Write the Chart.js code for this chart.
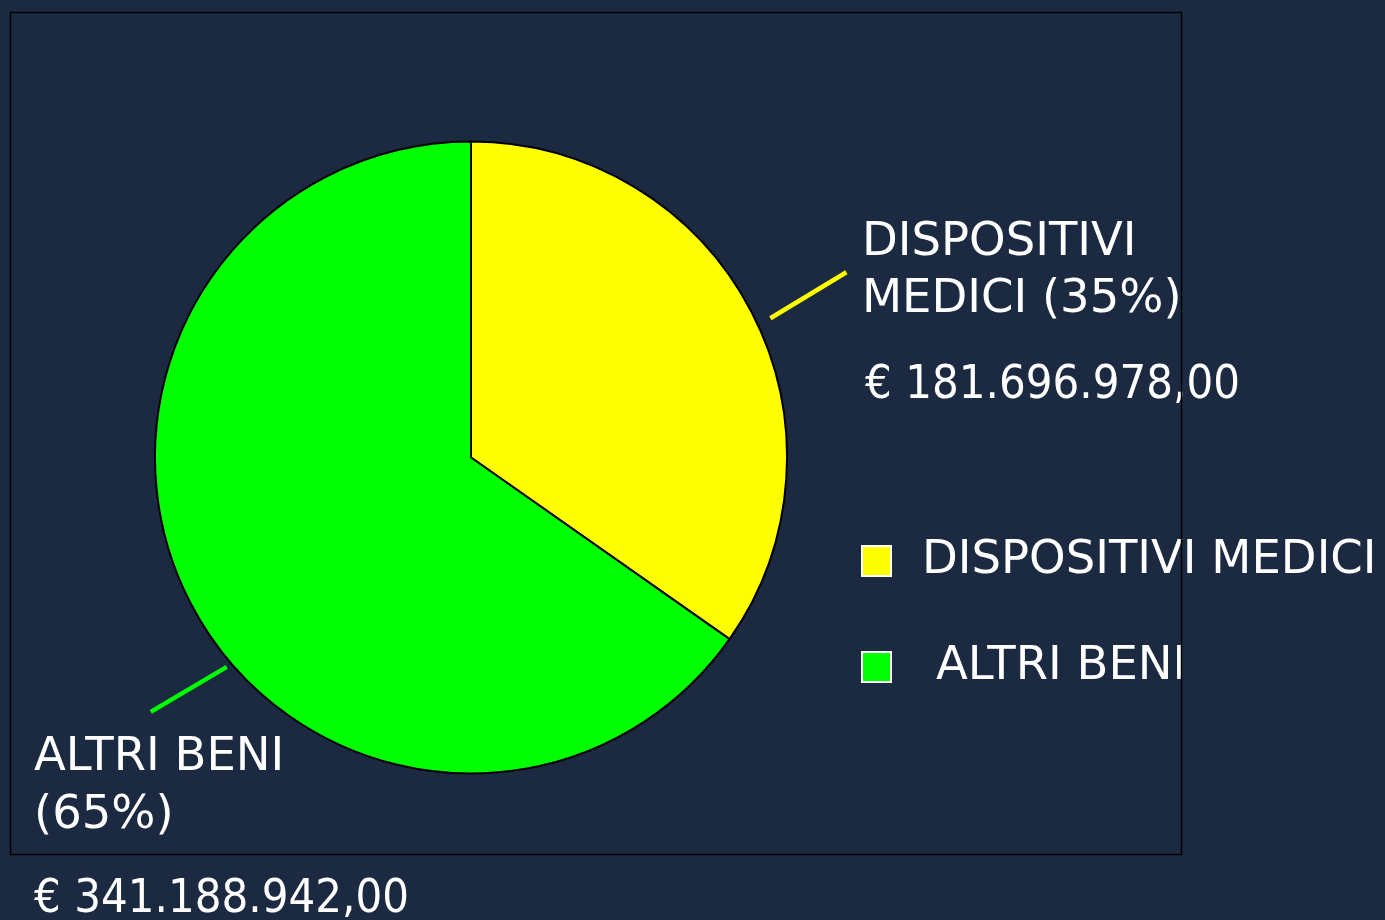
<!DOCTYPE html>
<html>
<head>
<meta charset="utf-8">
<script src="https://cdn.jsdelivr.net/npm/chart.js@4"></script>
<style>
html, body { margin: 0; padding: 0; background: #1b2a41; }
#wrap { width: 1385px; height: 920px; position: relative; }
</style>
</head>
<body>
<div id="wrap"><canvas id="chart"></canvas></div>
<script>
// data
const categories = ["DISPOSITIVI MEDICI", "ALTRI BENI"]
const amounts = [181696978, 341188942]   // euro
const colors = ["#ffff00", "#00ff00"]

const BG = "#1b2a41"
const FONT = "46.5px 'DejaVu Sans'"

const total = amounts.reduce((a, b) => a + b, 0)
const pct = v => Math.round(100 * v / total)

function formatEuro(v) {
	// 181696978 -> "€ 181.696.978,00"
	return "€ " + String(v).replace(/\B(?=(\d{3})+(?!\d))/g, ".") + ",00"
}

// slice label blocks: lines + amount, left x, baselines
const labelBlocks = [
	{ lines: ["DISPOSITIVI", "MEDICI (" + pct(amounts[0]) + "%)"], x: 862, ys: [255, 312], ax: 865, ay: 398 },
	{ lines: ["ALTRI BENI", "(" + pct(amounts[1]) + "%)"], x: 34, ys: [770, 828], ax: 34, ay: 912 },
]
// leader lines: start inside the slice (fraction f, radius factor r0), then a short straight stroke
const leaders = [
	{ f: 0.52, r0: 1.045, dx: 76, dy: -46 },
	{ f: 0.444, r0: 1.018, dx: -76, dy: 45 },
]

const decor = {
	id: "decor",
	beforeDraw(chart) {
		const c = chart.ctx
		c.save()
		c.fillStyle = BG
		c.fillRect(0, 0, chart.width, chart.height)
		c.restore()
	},
	afterDraw(chart) {
		const c = chart.ctx
		const arcs = chart.getDatasetMeta(0).data
		c.save()
		// leader lines
		arcs.forEach((a, i) => {
			const L = leaders[i]
			const ang = a.startAngle + (a.endAngle - a.startAngle) * L.f
			const x0 = a.x + Math.cos(ang) * a.outerRadius * L.r0
			const y0 = a.y + Math.sin(ang) * a.outerRadius * L.r0
			c.strokeStyle = colors[i]
			c.lineWidth = 4.5
			c.beginPath()
			c.moveTo(x0, y0)
			c.lineTo(x0 + L.dx, y0 + L.dy)
			c.stroke()
		})
		// slice labels
		c.font = FONT
		c.fillStyle = "#fff"
		c.textAlign = "left"
		c.textBaseline = "alphabetic"
		labelBlocks.forEach((b, i) => {
			b.lines.forEach((t, j) => c.fillText(t, b.x, b.ys[j]))
			c.fillText(formatEuro(amounts[i]), b.ax, b.ay, 375)
		})
		// legend
		const legY = [545, 651]
		const legTx = [922, 936]
		categories.forEach((name, i) => {
			c.fillStyle = colors[i]
			c.fillRect(861, legY[i], 31, 32)
			c.strokeStyle = "#fff"
			c.lineWidth = 2
			c.strokeRect(862, legY[i] + 1, 29, 30)
			c.fillStyle = "#fff"
			c.fillText(name, legTx[i], legY[i] + 28)
		})
		// plot frame, drawn on top of the text like the original
		c.strokeStyle = "#000"
		c.lineWidth = 1.5
		c.strokeRect(10.5, 12.5, 1171, 842)
		c.restore()
	}
}

new Chart(document.getElementById("chart"), {
	type: "pie",
	data: {
		labels: categories,
		datasets: [{
			data: amounts,
			backgroundColor: colors,
			borderColor: "#000",
			borderWidth: 2,
		}]
	},
	options: {
		responsive: true,
		maintainAspectRatio: false,
		animation: false,
		layout: { padding: { left: 154, right: 597, top: 140, bottom: 145 } },
		plugins: {
			legend: { display: false },
			tooltip: { enabled: false },
		}
	},
	plugins: [decor]
})
</script>
</body>
</html>
